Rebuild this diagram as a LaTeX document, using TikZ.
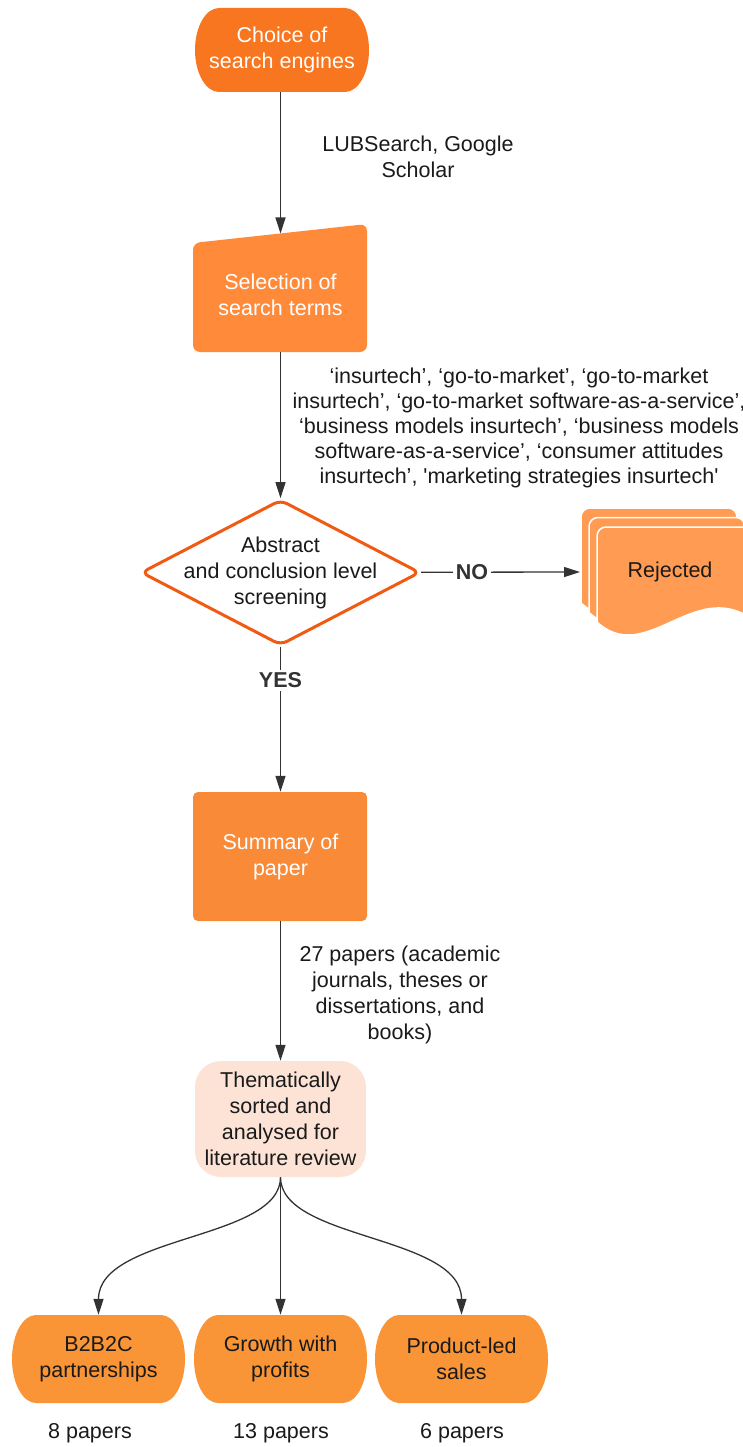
\documentclass[tikz,border=0pt]{standalone}
\usepackage{fontspec}
\setmainfont{Liberation Sans}
\usetikzlibrary{arrows.meta,shapes.geometric,backgrounds}
\definecolor{termorange}{HTML}{F7761F}
\definecolor{procorange}{HTML}{FF8A3A}
\definecolor{sumorange}{HTML}{F98A38}
\definecolor{leaforange}{HTML}{F99536}
\definecolor{docorange}{HTML}{FF9B52}
\definecolor{decisionedge}{HTML}{F15A12}
\definecolor{peach}{HTML}{FDE3D5}
\definecolor{linegray}{HTML}{333333}
\definecolor{inkblack}{HTML}{1A1A1A}
\begin{document}
\begin{tikzpicture}[x=1pt,y=-1pt,
  txt/.style={font=\fontsize{21.5pt}{26pt}\selectfont, align=center, inner sep=0pt, text=inkblack},
  % flat top and bottom, half-elliptic ends: left, top, right, bottom, end depth
  ovalends/.style n args={5}{insert path={
    (#1+#5,#2) -- (#3-#5,#2)
    .. controls ({#3-0.4477*#5},#2) and (#3,{(#2+#4)/2-0.5523*(#4-#2)/2}) .. (#3,{(#2+#4)/2})
    .. controls (#3,{(#2+#4)/2+0.5523*(#4-#2)/2}) and ({#3-0.4477*#5},#4) .. (#3-#5,#4)
    -- (#1+#5,#4)
    .. controls ({#1+0.4477*#5},#4) and (#1,{(#2+#4)/2+0.5523*(#4-#2)/2}) .. (#1,{(#2+#4)/2})
    .. controls (#1,{(#2+#4)/2-0.5523*(#4-#2)/2}) and ({#1+0.4477*#5},#2) .. (#1+#5,#2) -- cycle}},
  terminal/.style={txt, text=white},
  process/.style={txt, text=white},
  decision/.style={txt, diamond, draw=decisionedge, line width=3pt, fill=white,
    rounded corners=7pt, inner sep=-30pt, minimum width=279pt, minimum height=130pt},
  sorted/.style={txt},
  leaf/.style={txt},
  note/.style={txt},
  answer/.style={txt, font=\fontsize{21.5pt}{26pt}\selectfont\bfseries, text=linegray,
    fill=white, inner sep=3pt},
  flow/.style={draw=linegray, line width=1.3pt, -{Triangle[length=16pt,width=10pt]}},
  sheet/.style={fill=docorange, draw=white, line width=1.5pt}
]
\useasboundingbox (0,0) rectangle (743,1447);
\clip (0,0) rectangle (743,1447);

% main column
\node[terminal, minimum width=174pt, minimum height=84pt] (choice) at (282,50) {Choice of\\search engines};
\coordinate (termsTop) at (280.5,233.5);
\node[process, minimum width=174pt, minimum height=114pt] (terms) at (280.5,295) {Selection of\\search terms};
\node[decision] (screen) at (280.5,572.5) {Abstract\\and conclusion level\\screening};
\node[process, minimum width=174pt, minimum height=129pt] (summary) at (280.5,856.5) {Summary of\\paper};
\node[sorted, minimum width=174pt, minimum height=116pt] (sorted) at (280.5,1119) {Thematically\\sorted and\\analysed for\\literature review};

% themes
\node[leaf, minimum width=173pt, minimum height=88pt] (b2b) at (98.5,1359) {B2B2C\\partnerships};
\node[leaf, minimum width=173pt, minimum height=88pt] (growth) at (280.5,1359) {Growth with\\profits};
\node[leaf, minimum width=173pt, minimum height=88pt] (plg) at (461.5,1359) {Product-led\\sales};
\node[note] (n1) at (90,1433) {8 papers};
\node[note] (n2) at (281,1433) {13 papers};
\node[note] (n3) at (462,1433) {6 papers};

% node bodies
\begin{scope}[on background layer]
  \fill[termorange, ovalends={195}{8}{369}{92}{24}];
  \fill[procorange, rounded corners=7pt] (193,243) -- (367,224) -- (367,352) -- (193,352) -- cycle;
  \fill[sumorange, rounded corners=5pt] (193,792) rectangle (367,921);
  \fill[peach, rounded corners=26pt] (195,1061) rectangle (366,1177);
  \fill[leaforange, ovalends={12}{1315}{185}{1403}{24}];
  \fill[leaforange, ovalends={194}{1315}{367}{1403}{24}];
  \fill[leaforange, ovalends={375}{1315}{548}{1403}{24}];
\end{scope}

% rejected stack
\foreach \dx/\dy in {0/0, 8/9.5, 16/19} {
  \filldraw[sheet, rounded corners=9pt]
    (581+\dx,603+\dy) -- (581+\dx,508+\dy) -- (737+\dx,508+\dy) -- (737+\dx,600+\dy)
    [sharp corners] .. controls (674+\dx,566+\dy) and (628+\dx,646+\dy) .. (581+\dx,603+\dy) -- cycle;
}
\node[txt] (rejected) at (670,572) {Rejected};
\coordinate (rejIn) at (580,572);

% side notes
\node[note] (engines) at (418,157) {LUBSearch, Google\\Scholar};
\node[note, font=\fontsize{21.5pt}{25.2pt}\selectfont] (terms list) at (519,428)
  {‘insurtech’, ‘go-to-market’, ‘go-to-market\\
   insurtech’, ‘go-to-market software-as-a-service’,\\
   ‘business models insurtech’, ‘business models\\
   software-as-a-service’, ‘consumer attitudes\\
   insurtech’, \textquotesingle marketing strategies insurtech\textquotesingle};
\node[note] (count) at (400,995) {27 papers (academic\\journals, theses or\\dissertations, and\\books)};

% connectors
\draw[flow] (choice.south -| termsTop) -- (termsTop);
\draw[flow] (terms) -- (screen);
\draw[flow] (screen) -- node[answer, pos=0.32] {NO} (rejIn);
\draw[flow] (screen) -- node[answer, pos=0.23] {YES} (summary);
\draw[flow] (summary) -- (sorted);
\draw[flow] (sorted.south) .. controls +(0,63) and +(0,-80) .. (b2b.north);
\draw[flow] (sorted.south) -- (growth.north);
\draw[flow] (sorted.south) .. controls +(0,63) and +(0,-80) .. (plg.north);
\end{tikzpicture}
\end{document}
